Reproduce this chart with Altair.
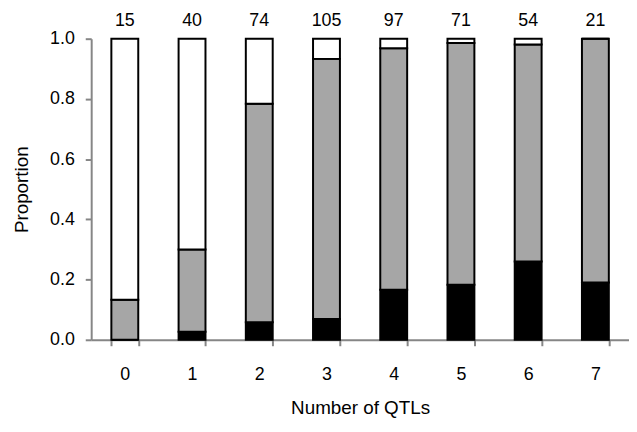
import altair as alt
import pandas as pd

qtls = ["0", "1", "2", "3", "4", "5", "6", "7"]
counts = [15, 40, 74, 105, 97, 71, 54, 21]
black_prop = [0.0, 0.027, 0.058, 0.069, 0.166, 0.183, 0.260, 0.190]
gray_prop = [0.133, 0.273, 0.726, 0.864, 0.802, 0.803, 0.721, 0.810]
white_prop = [0.867, 0.700, 0.216, 0.067, 0.032, 0.014, 0.019, 0.0]

segments = ["black", "gray", "white"]
seg_colors = ["#000000", "#a6a6a6", "#ffffff"]

rows = []
for i, q in enumerate(qtls):
    for j, (s, v) in enumerate(zip(segments, [black_prop[i], gray_prop[i], white_prop[i]])):
        rows.append({"qtl": q, "segment": s, "order": j, "value": v})
df = pd.DataFrame(rows)
df_counts = pd.DataFrame({"qtl": qtls, "n": counts, "top": [1.0] * len(qtls)})

FONT = "Liberation Sans"

x_enc = alt.X(
    "qtl:N",
    sort=qtls,
    scale=alt.Scale(paddingInner=0.6, paddingOuter=0.3),
    axis=alt.Axis(
        title="Number of QTLs",
        labelAngle=0,
        tickBand="extent",
        tickSize=6,
        labelPadding=20,
        titlePadding=15,
        domainColor="#868686",
        tickColor="#868686",
        domainWidth=2,
        tickWidth=2,
        labelFont=FONT,
        labelFontSize=18,
        labelColor="#000000",
        titleFont=FONT,
        titleFontSize=19,
        titleFontWeight="normal",
        titleColor="#000000",
    ),
)

bars = alt.Chart(df).mark_bar(stroke="#000000", strokeWidth=2).encode(
    x=x_enc,
    y=alt.Y(
        "value:Q",
        stack="zero",
        scale=alt.Scale(domain=[0, 1]),
        axis=alt.Axis(
            title="Proportion",
            values=[0, 0.2, 0.4, 0.6, 0.8, 1.0],
            format=".1f",
            grid=False,
            tickSize=6,
            labelPadding=11,
            titlePadding=18,
            domainColor="#868686",
            tickColor="#868686",
            domainWidth=2,
            tickWidth=2,
            labelFont=FONT,
            labelFontSize=18,
            labelColor="#000000",
            titleFont=FONT,
            titleFontSize=19,
            titleFontWeight="normal",
            titleColor="#000000",
        ),
    ),
    color=alt.Color(
        "segment:N",
        scale=alt.Scale(domain=segments, range=seg_colors),
        legend=None,
    ),
    order=alt.Order("order:Q", sort="ascending"),
)

labels = alt.Chart(df_counts).mark_text(
    font=FONT, fontSize=18, dy=-13, baseline="alphabetic", color="#000000"
).encode(
    x=alt.X("qtl:N", sort=qtls),
    y=alt.Y("top:Q"),
    text="n:Q",
)

chart = (
    alt.layer(bars, labels)
    .properties(
        width=543,
        height=304,
        autosize=alt.AutoSizeParams(type="none"),
        padding={"left": 84, "top": 29, "right": 0, "bottom": 80},
    )
    .configure_view(stroke=None)
)

chart.save("out.html", embed_options={"renderer": "svg", "actions": False})
